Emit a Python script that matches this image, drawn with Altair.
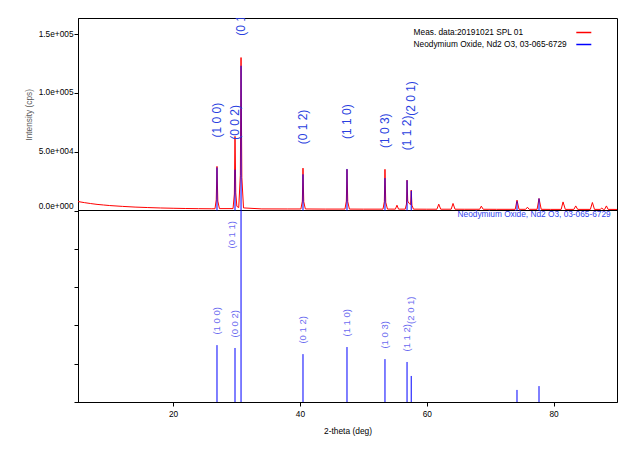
import altair as alt
import pandas as pd

# ---------------- data ----------------
meas_name = "Meas. data:20191021 SPL 01"
ref_name = "Neodymium Oxide, Nd2 O3, 03-065-6729"

scan_tth = [5.0, 6.0, 7.0, 8.0, 9.0, 10.0, 12.0, 14.0, 16.0, 18.0, 20.0, 22.0, 24.0, 26.0,
            26.6, 26.8, 26.92, 27.05, 27.3,
            29.45, 29.66, 29.76, 29.88, 30.05, 30.35, 30.6, 30.71, 30.84, 31.1,
            34.0, 38.0,
            40.15, 40.38, 40.48, 40.6, 40.85,
            44.0,
            47.1, 47.32, 47.42, 47.54, 47.8,
            50.0,
            53.1, 53.31, 53.41, 53.53, 53.8,
            55.05, 55.3, 55.55,
            56.6, 56.8, 56.89, 57.0, 57.22, 57.45, 57.55, 57.66, 57.9,
            60.0,
            61.6, 61.89, 62.2,
            63.85, 64.14, 64.45,
            66.0,
            68.35, 68.6, 68.9,
            71.0,
            73.95, 74.23, 74.55,
            75.6, 75.87, 76.15,
            77.4, 77.7, 78.05,
            79.5,
            81.2, 81.49, 81.85,
            83.2, 83.49, 83.8,
            85.8, 86.12, 86.45,
            87.35, 87.6, 87.85,
            88.05, 88.33, 88.6,
            90.0]
scan_cps = [7600, 6700, 5900, 5200, 4700, 4200, 3500, 2900, 2500, 2150, 1900, 1700, 1550, 1450,
            1500, 9000, 37500, 8000, 1600,
            1600, 14000, 63000, 15000, 3500, 2500, 30000, 130000, 28000, 2200,
            1350, 1300,
            1300, 8000, 36000, 7500, 1300,
            1200,
            1200, 8000, 35000, 7500, 1200,
            1150,
            1150, 7500, 35000, 7000, 1200,
            1150, 4500, 1150,
            1150, 5500, 25800, 8000, 6000, 5000, 17300, 4500, 1150,
            1100,
            1100, 5400, 1100,
            1100, 6000, 1100,
            1050,
            1050, 3700, 1050,
            1000,
            1000, 8800, 1000,
            1000, 2800, 1000,
            1000, 10200, 1000,
            950,
            950, 7300, 950,
            950, 3900, 950,
            950, 6800, 950,
            950, 2000, 950,
            950, 3900, 950,
            900]

stick_tth = [26.92, 29.76, 30.71, 40.48, 47.42, 53.41, 56.89, 57.55, 74.23, 77.70]
stick_rel = [29.7, 28.2, 100.0, 25.0, 28.7, 22.4, 20.9, 13.6, 6.3, 8.3]
stick_hkl = ["(1 0 0)", "(0 0 2)", "(0 1 1)", "(0 1 2)", "(1 1 0)", "(1 0 3)",
             "(1 1 2)", "(2 0 1)", "", ""]
ref_full_scale = 123000  # cps of the 100 % reference line in the upper panel

x_ticks = [20, 40, 60, 80]
y_ticks = [0, 50000, 100000, 150000]
rel_ticks = [0, 20, 40, 60, 80]

scan = pd.DataFrame({"tth": scan_tth, "cps": scan_cps, "series": meas_name})
sticks = pd.DataFrame({"tth": stick_tth, "rel": stick_rel, "hkl": stick_hkl,
                       "series": ref_name})
sticks["cps"] = sticks["rel"] / 100.0 * ref_full_scale
caption = pd.DataFrame({"tth": [90], "rel": [100], "txt": [ref_name]})

# ---------------- styling ----------------
FONT = "Liberation Sans"
FS = 8.3
BLUE = "#0000ff"
RED = "#ff0000"
TOP_LABEL = "#2a3fe0"
BOT_LABEL = "#6b6bf0"

x_scale = alt.Scale(domain=[5, 90], nice=False, zero=False)
x_axis = alt.Axis(values=x_ticks, title="2-theta (deg)", grid=False,
                  labelFontSize=FS, labelFont=FONT, labelColor="black", labelPadding=3,
                  tickSize=4, tickColor="black", domainColor="black",
                  titleFontSize=8.4, titleFont=FONT, titleFontWeight="normal",
                  titleColor="black", titleY=28.7, titleBaseline="middle")
X = alt.X("tth:Q", scale=x_scale, axis=x_axis)

top_scale = alt.Scale(domain=[-162750, 163600], nice=False, zero=False)
top_axis = alt.Axis(values=y_ticks, orient="left", grid=False,
                    labelExpr="replace(format(datum.value, '.1e'), 'e+', 'e+00')",
                    labelFontSize=FS, labelFont=FONT, labelColor="black", labelPadding=1,
                    labelBaseline={"condition": {"test": "datum.value === 0", "value": "bottom"},
                                   "value": "middle"},
                    tickSize=4, tickColor="black", domainColor="black",
                    title="Intensity (cps)", titleFontSize=FS, titleFont=FONT,
                    titleFontWeight="normal", titleColor="#5a5a5a", titleAngle=270,
                    titleX=-49, titleY=96.3, titleAlign="center", titleBaseline="middle")

bot_scale = alt.Scale(domain=[0, 200.5], nice=False, zero=False)
bot_axis = alt.Axis(values=rel_ticks, orient="left", grid=False, labels=False,
                    domain=False, tickSize=4, tickColor="black", title=None)

color_scale = alt.Scale(domain=[meas_name, ref_name], range=[RED, BLUE])
legend = alt.Legend(title=None, orient="none", legendX=497.3, legendY=6.0,
                    symbolType="stroke", symbolSize=225, symbolStrokeWidth=1.5,
                    labelFontSize=FS, labelFont=FONT, labelColor="black",
                    labelOffset={"expr": "-178.7"}, labelAlign="left", labelLimit=400,
                    rowPadding={"expr": "-4.8"}, padding=0)
C = alt.Color("series:N", scale=color_scale, legend=legend)

Y_top = alt.Y("cps:Q", scale=top_scale, axis=top_axis)

# ---------------- upper panel ----------------
divider = alt.Chart(scan).mark_rule(color="black", strokeWidth=1).encode(
    y=alt.YDatum(0, scale=top_scale, axis=top_axis, type="quantitative"))

meas_line = alt.Chart(scan).mark_line(strokeWidth=1, interpolate="linear").encode(
    x=X, y=Y_top, color=C, order="tth:Q")

top_sticks = alt.Chart(sticks).mark_rule(strokeWidth=1).encode(
    x=X, y=Y_top, y2=alt.datum(0), color=C)

top_labels = alt.Chart(sticks).mark_text(
    angle=270, align="left", baseline="middle", dx=30, fontSize=12, font=FONT,
    color=TOP_LABEL, clip=True).encode(x=X, y=Y_top, text="hkl:N").transform_filter(
    "datum.hkl != '' && datum.hkl != '(2 0 1)'")

top_label_201 = alt.Chart(sticks).mark_text(
    angle=270, align="left", baseline="middle", dx=75, fontSize=12, font=FONT,
    color=TOP_LABEL, clip=True).encode(x=X, y=Y_top, text="hkl:N").transform_filter(
    "datum.hkl == '(2 0 1)'")

upper = alt.layer(divider, meas_line, top_sticks, top_labels, top_label_201)

# ---------------- lower panel ----------------
Y_bot = alt.Y("rel:Q", scale=bot_scale, axis=bot_axis)

bot_sticks = alt.Chart(sticks).mark_rule(strokeWidth=1, color=BLUE).encode(
    x=X, y=Y_bot, y2=alt.datum(0))

bot_labels = alt.Chart(sticks).mark_text(
    angle=270, align="left", baseline="middle", dx=10.5, fontSize=9.5, font=FONT,
    color=BOT_LABEL).encode(x=X, y=Y_bot, text="hkl:N").transform_filter(
    "datum.hkl != '' && datum.hkl != '(2 0 1)' && datum.hkl != '(0 1 1)'")

bot_label_011 = alt.Chart(sticks).mark_text(
    angle=270, align="left", baseline="middle", dx=-38, dy=-9, fontSize=9.5, font=FONT,
    color=BOT_LABEL).encode(x=X, y=Y_bot, text="hkl:N").transform_filter(
    "datum.hkl == '(0 1 1)'")

bot_label_201 = alt.Chart(sticks).mark_text(
    angle=270, align="left", baseline="middle", dx=52, fontSize=9.5, font=FONT,
    color=BOT_LABEL).encode(x=X, y=Y_bot, text="hkl:N").transform_filter(
    "datum.hkl == '(2 0 1)'")

bot_caption = alt.Chart(caption).mark_text(
    align="right", baseline="middle", dx=-6.3, dy=4.7, fontSize=FS, font=FONT,
    color="#3344ee").encode(x=X, y=Y_bot, text="txt:N")

lower = alt.layer(bot_sticks, bot_labels, bot_label_011, bot_label_201, bot_caption)

chart = alt.layer(upper, lower).resolve_scale(y="independent").properties(
    width=539, height=384,
    autosize=alt.AutoSizeParams(type="none"),
    padding={"left": 78, "top": 18, "right": 22, "bottom": 57},
    background="white",
).configure(font=FONT).configure_view(stroke="black", strokeWidth=1)

chart.save("out.html", embed_options={"renderer": "svg", "actions": False})
